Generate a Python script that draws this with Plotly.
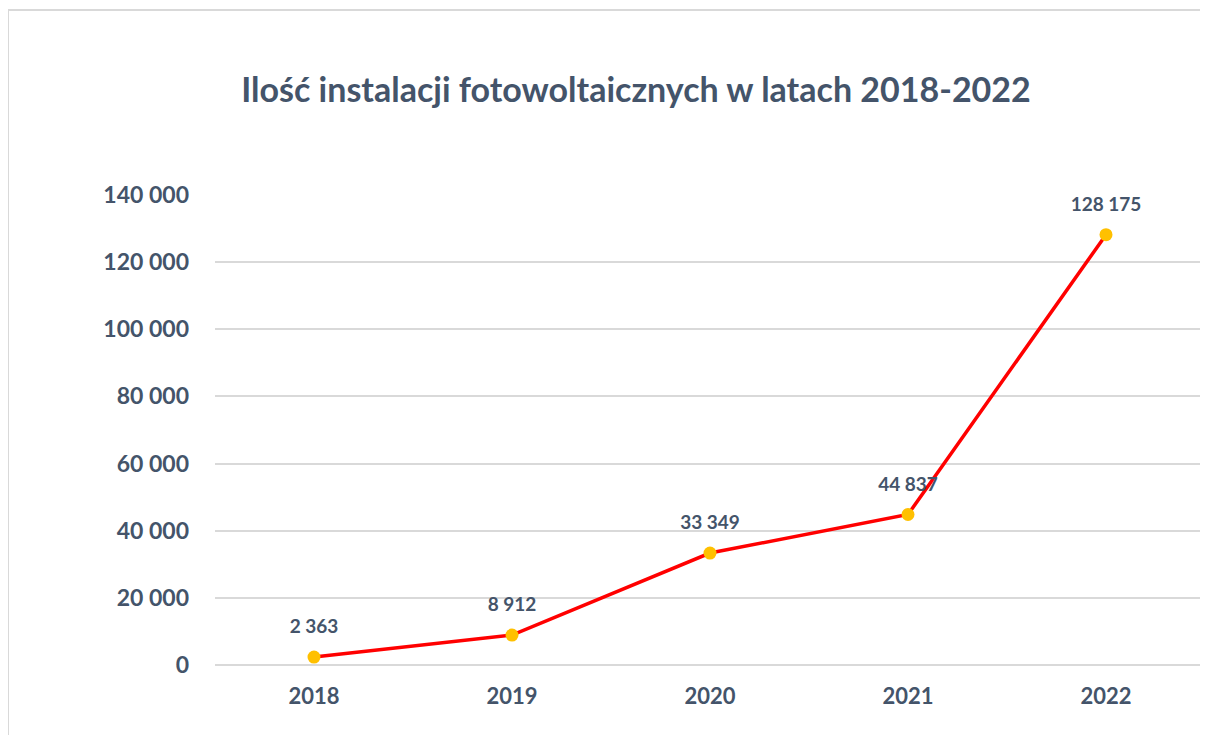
import plotly.graph_objects as go

years = ["2018", "2019", "2020", "2021", "2022"]
installations = [2363, 8912, 33349, 44837, 128175]
y_ticks = [0, 20000, 40000, 60000, 80000, 100000, 120000, 140000]
title_text = "Ilość instalacji fotowoltaicznych w latach 2018-2022"

TXT = "#44546A"
FONT = "Lato"
OFF = 8  # page body margin

def fmt(v):
    return f"{v:,}".replace(",", " ")

W, H = 1208 - OFF, 735 - OFF
L, R, T, B = 215 - OFF, 3, 195 - OFF, 70

fig = go.Figure()
fig.add_trace(go.Scatter(
    x=years, y=installations, mode="lines+markers",
    line=dict(color="#FF0000", width=3.5),
    marker=dict(color="#FFC000", size=13),
    cliponaxis=False, hoverinfo="skip",
))
# data labels (invisible large markers push the text above the points)
fig.add_trace(go.Scatter(
    x=years, y=installations, mode="markers+text",
    marker=dict(size=29, opacity=0),
    text=[f"<b>{fmt(v)}</b>" for v in installations],
    textposition="top center",
    textfont=dict(family=FONT, size=19, color=TXT),
    cliponaxis=False, hoverinfo="skip",
))

# chart border
fig.add_shape(type="rect", xref="paper", yref="paper",
              x0=(8 - 215) / 990, x1=1.05, y0=-0.3, y1=(665 - 10) / 470,
              line=dict(color="#D9D9D9", width=2), fillcolor="rgba(0,0,0,0)", layer="below")

fig.update_layout(
    width=W, height=H,
    margin=dict(l=L, r=R, t=T, b=B),
    paper_bgcolor="white", plot_bgcolor="white",
    showlegend=False,
    title=dict(text=f"<b>{title_text}</b>", xref="container", yref="container",
               x=(636 - OFF) / W, xanchor="center", y=1 - (90 - OFF) / H, yanchor="middle",
               font=dict(family=FONT, size=34, color=TXT)),
    xaxis=dict(type="category", range=[-0.5, 4.5], showgrid=False, zeroline=False,
               showline=False, ticks="", ticklabelstandoff=16, automargin=False,
               tickvals=years, ticktext=[f"<b>{y}</b>" for y in years],
               tickfont=dict(family=FONT, size=22, color=TXT)),
    yaxis=dict(range=[0, 140000], tickvals=y_ticks,
               ticktext=[f"<b>{fmt(v)}</b>" for v in y_ticks],
               showgrid=True, gridcolor="#D9D9D9", gridwidth=1.5,
               zeroline=True, zerolinecolor="#D9D9D9", zerolinewidth=1.5,
               showline=False, ticks="", ticklabelstandoff=25, automargin=False,
               tickfont=dict(family=FONT, size=23, color=TXT)),
)

fig.write_html("out.html")
